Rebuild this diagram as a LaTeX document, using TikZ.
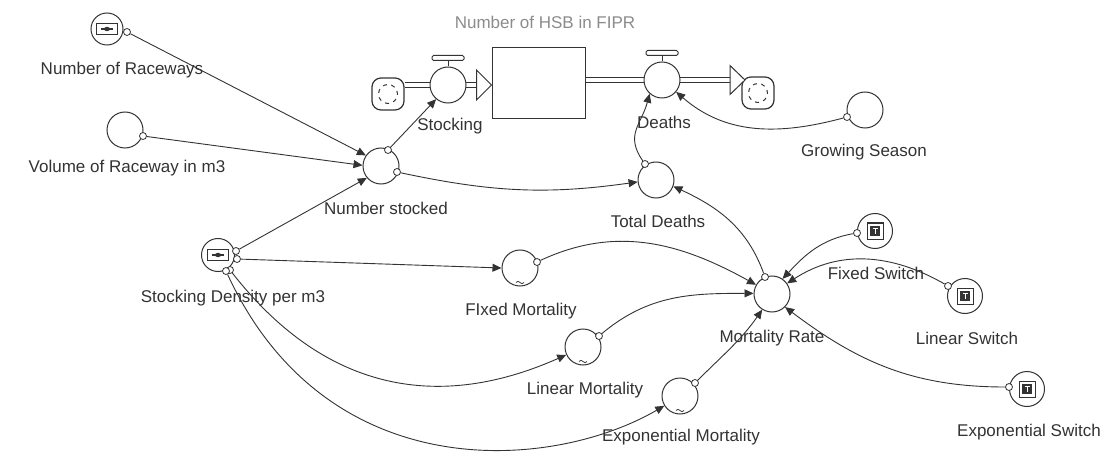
\documentclass[tikz,border=0pt]{standalone}
\usepackage{fontspec}
\setmainfont{Liberation Sans}
\usetikzlibrary{arrows.meta,calc}
\definecolor{ink}{HTML}{333333}
\definecolor{stockgray}{HTML}{8C8C8C}

\begin{document}
\begin{tikzpicture}[x=1pt,y=1pt,
  conv/.style={circle,draw=ink,line width=1pt,minimum size=36pt,inner sep=0pt,fill=white},
  origin/.style={circle,draw=ink,line width=0.8pt,minimum size=7pt,inner sep=0pt,fill=white},
  link/.style={draw=ink,line width=0.9pt,-{Triangle[length=9pt,width=8pt]}},
  lbl/.style={text=ink,font=\fontsize{17}{20}\selectfont,inner sep=0pt},
  pipe/.style={draw=ink,line width=1.2pt,double=white,double distance=4pt},
  flowtip/.style={draw=ink,line width=1pt,fill=white,line join=miter},
  cloud/.style={rectangle,rounded corners=9pt,draw=ink,line width=1.2pt,minimum size=32pt,inner sep=0pt,fill=white},
  stockbox/.style={rectangle,draw=ink,line width=1pt,minimum width=93pt,minimum height=71pt,inner sep=0pt,fill=white},
  wave/.style={draw=ink,line width=0.7pt}
]
\useasboundingbox (0,0) rectangle (1116,-457);
\fill[white] (0,0) rectangle (1116,-457);

% ---------- stock and flows ----------
\node[stockbox] (st) at (538.5,-83.5) {};
\node[text=stockgray,font=\fontsize{17}{20}\selectfont,inner sep=0pt] (stL) at (545,-22) {Number of HSB in FIPR};

\node[cloud] (lc) at (388,-94) {};
\node[cloud] (rc) at (758,-93) {};
\foreach \c in {lc,rc}{
  \draw[ink,line width=1pt,dash pattern=on 4pt off 4.5pt,dash phase=1pt] (\c.center) circle (9.5pt);
}

\coordinate (svPos) at (448,-85);
\coordinate (dvPos) at (662,-80);

% inflow pipe: source cloud -> Stocking valve -> stock
\draw[pipe] (lc.east |- svPos) -- (svPos);
\draw[pipe] (svPos) -- ($(st.west |- svPos)+(-15,0)$);
\coordinate (inTip) at (st.west |- svPos);
\draw[flowtip] (inTip) -- ++(-15,15) -- ++(0,-30) -- cycle;

% outflow pipe: stock -> Deaths valve -> sink cloud
\draw[pipe] (st.east |- dvPos) -- (dvPos);
\draw[pipe] (dvPos) -- (730,-80);
\coordinate (outTip) at (745,-80);
\draw[flowtip] (outTip) -- ++(-15,14.5) -- ++(0,-29) -- cycle;

\node[conv] (sv) at (svPos) {};
\node[conv] (dv) at (dvPos) {};
\foreach \v in {sv,dv}{
  \draw[ink,line width=1pt] (\v.north) -- ++(0,6);
  \draw[ink,line width=1pt,rounded corners=1.5pt,fill=white] ($(\v.north)+(-16,6)$) rectangle ++(32,5);
}
\node[lbl] (svL) at (450,-126) {Stocking};
\node[lbl] (dvL) at (664,-122) {Deaths};

% ---------- converters ----------
\node[conv] (vol) at (125,-130) {};
\node[conv] (ns)  at (381,-166) {};
\node[conv] (gs)  at (865,-110) {};
\node[conv] (td)  at (656,-180) {};
\node[conv] (fm)  at (520,-268) {};
\node[conv] (lm)  at (583,-347) {};
\node[conv] (em)  at (680,-396) {};
\node[conv] (mr)  at (772,-294) {};

% graphical-function marks
\foreach \g in {fm,lm,em}{
  \draw[wave] ($(\g.south)+(-4,4)$) sin ++(2,1.2) cos ++(2,-1.2) sin ++(2,-1.2) cos ++(2,1.2);
}

% constants with input devices
\node[conv,minimum size=32pt] (rw) at (107,-29) {};
\node[conv,minimum size=33pt] (sd) at (218,-255) {};
\node[conv,minimum size=35pt] (fs) at (875,-231) {};
\node[conv,minimum size=35pt] (ls) at (965,-296) {};
\node[conv,minimum size=35pt] (es) at (1027,-389) {};

% slider icons
\foreach \k in {rw,sd}{
  \draw[ink,line width=1.7pt] ($(\k.center)+(-10.5,-5.5)$) rectangle ++(21,11);
  \draw[ink,line width=1.2pt] ($(\k.center)+(-6,0)$) -- ++(12,0);
  \fill[ink] (\k.center) ellipse (3pt and 2.2pt);
}
% switch icons
\foreach \k in {fs,ls,es}{
  \draw[ink,line width=1pt] ($(\k.center)+(-8,-8)$) rectangle ++(16,16);
  \fill[ink] ($(\k.center)+(-5,-5)$) rectangle ++(10,10);
  \draw[white,line width=1pt] ($(\k.center)+(-2.5,2.5)$) -- ++(5,0);
  \draw[white,line width=1pt] ($(\k.center)+(0,2.5)$) -- ++(0,-5.5);
}

% ---------- labels ----------
\node[lbl] (rwL) at (122,-70) {Number of Raceways};
\node[lbl] (volL) at (127,-168) {Volume of Raceway in m3};
\node[lbl] (nsL) at (386,-208) {Number stocked};
\node[lbl] (gsL) at (864,-152) {Growing Season};
\node[lbl] (tdL) at (658,-221) {Total Deaths};
\node[lbl] (fmL) at (521,-311) {FIxed Mortality};
\node[lbl] (sdL) at (233,-298) {Stocking Density per m3};
\node[lbl] (lmL) at (585,-390) {Linear Mortality};
\node[lbl] (emL) at (681,-437) {Exponential Mortality};
\node[lbl] (mrL) at (772,-338) {Mortality Rate};
\node[lbl] (fsL) at (876,-273) {Fixed Switch};
\node[lbl] (lsL) at (967,-338) {Linear Switch};
\node[lbl] (esL) at (1029,-432) {Exponential Switch};

% ---------- connector origins ----------
\node[origin] (rwO)  at (127,-32) {};
\node[origin] (volO) at (143,-136) {};
\node[origin] (nsO1) at (388,-150) {};
\node[origin] (nsO2) at (397,-172) {};
\node[origin] (gsO)  at (847,-117) {};
\node[origin] (tdO)  at (645,-164) {};
\node[origin] (fmO)  at (537,-262) {};
\node[origin] (lmO)  at (599,-336) {};
\node[origin] (emO)  at (695,-383) {};
\node[origin] (mrO)  at (765,-277) {};
\node[origin] (fsO)  at (857,-233) {};
\node[origin] (lsO)  at (948,-286) {};
\node[origin] (esO)  at (1009,-387) {};
\node[origin] (sdO1) at (236,-251) {};
\node[origin] (sdO2) at (237,-259) {};
\node[origin] (sdO3) at (230,-270) {};
\node[origin] (sdO4) at (226,-271) {};

% ---------- connectors ----------
\draw[link] (rwO) -- (ns.145);
\draw[link] (volO) -- (ns.178);
\draw[link] (sdO1) -- (ns.220);
\draw[link] (nsO1) -- (sv.230);
\draw[link] (nsO2) to[out=-12,in=188] (td.186);
\draw[link] (tdO) to[out=125,in=255,looseness=1.2] (dv.228);
\draw[link] (gsO) to[out=195,in=-41] (dv.-40);
\draw[link] (mrO) to[out=110,in=-25] (td.-20);
\draw[link] (sdO2) -- (fm.180);
\draw[link] (sdO3) to[out=-52,in=204,looseness=1.08] (lm.205);
\draw[link] (sdO4) .. controls (327,-489) and (552,-471) .. (em.212);
\draw[link] (fmO) to[out=25,in=151] (mr.150);
\draw[link] (lmO) to[out=40,in=180] (mr.178);
\draw[link] (emO) to[out=45,in=235] (mr.238);
\draw[link] (fsO) to[out=190,in=47] (mr.55);
\draw[link] (lsO) to[out=150,in=33] (mr.35);
\draw[link] (esO) to[out=180,in=-37] (mr.-45);
\end{tikzpicture}
\end{document}
